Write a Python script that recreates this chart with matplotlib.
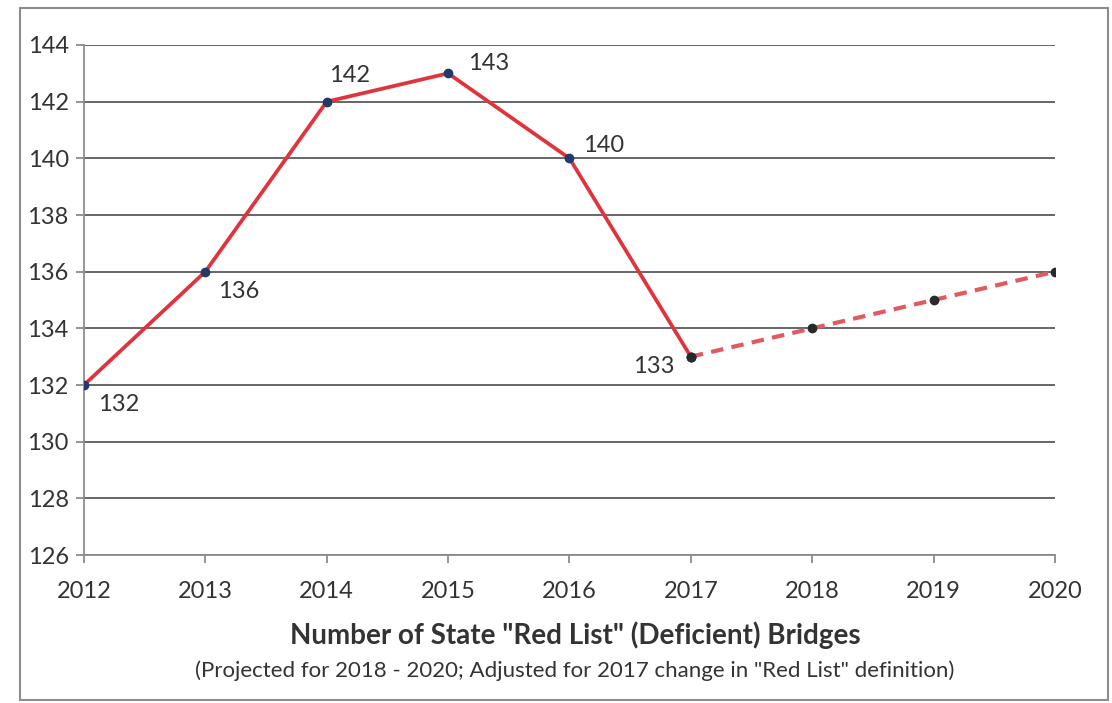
import matplotlib.pyplot as plt
from matplotlib.patches import Rectangle

plt.rcParams['font.family'] = ['Lato', 'DejaVu Sans']

# data
years_actual = [2012, 2013, 2014, 2015, 2016, 2017]
bridges_actual = [132, 136, 142, 143, 140, 133]
years_proj = [2017, 2018, 2019, 2020]
bridges_proj = [133, 134, 135, 136]
label_offsets = [(10, -14), (9, -14), (2, 19), (14, 7), (10, 9), (-12, -7)]
label_align = ['left', 'left', 'left', 'left', 'left', 'right']

fig = plt.figure(figsize=(11.12, 7.03), dpi=100)
ax = fig.add_axes([0.0755, 0.2105, 0.8732, 0.7255])

# outer frame of the pasted chart
fig.patches.append(Rectangle((0.018, 0.004), 0.978, 0.984, transform=fig.transFigure,
                             fill=False, edgecolor='#8c8c8c', linewidth=1.5))

ax.plot(years_proj, bridges_proj, color='#e05a5f', linewidth=3, linestyle=(0, (3, 2)),
        marker='o', markersize=6, markerfacecolor='#2a2a2a', markeredgecolor='#2a2a2a', zorder=3)
ax.plot(years_actual, bridges_actual, color='#e0343c', linewidth=2.7,
        marker='o', markersize=6, markerfacecolor='#1f3a6b', markeredgecolor='#1f3a6b', zorder=4)
ax.plot(years_actual[-1], bridges_actual[-1], 'o', markersize=6, color='#2a2a2a', zorder=5)

for x, y, off, ha in zip(years_actual, bridges_actual, label_offsets, label_align):
    ax.annotate(str(y), (x, y), xytext=off, textcoords='offset points',
                fontsize=17, color='#333333', va='center', ha=ha)

ax.set_xlim(2012, 2020)
ax.set_ylim(126, 144)
ax.set_xticks(range(2012, 2021))
ax.set_yticks(range(126, 145, 2))
ax.grid(axis='y', color='#5a5a5a', linewidth=1.3)
ax.set_axisbelow(True)
for s in ['top', 'right']:
    ax.spines[s].set_visible(False)
for s in ['left', 'bottom']:
    ax.spines[s].set_color('#8c8c8c')
    ax.spines[s].set_linewidth(1.3)
ax.tick_params(axis='both', labelsize=17, labelcolor='#333333', color='#8c8c8c', width=1.3)
ax.tick_params(axis='x', length=6, pad=13)
ax.tick_params(axis='y', length=6, pad=5)

fig.text(0.517, 0.084, 'Number of State "Red List" (Deficient) Bridges', ha='center',
         fontsize=20, fontweight='bold', color='#333333')
fig.text(0.517, 0.037, '(Projected for 2018 - 2020; Adjusted for 2017 change in "Red List" definition)',
         ha='center', fontsize=16, color='#333333')

fig.savefig('out.png', dpi=100)
